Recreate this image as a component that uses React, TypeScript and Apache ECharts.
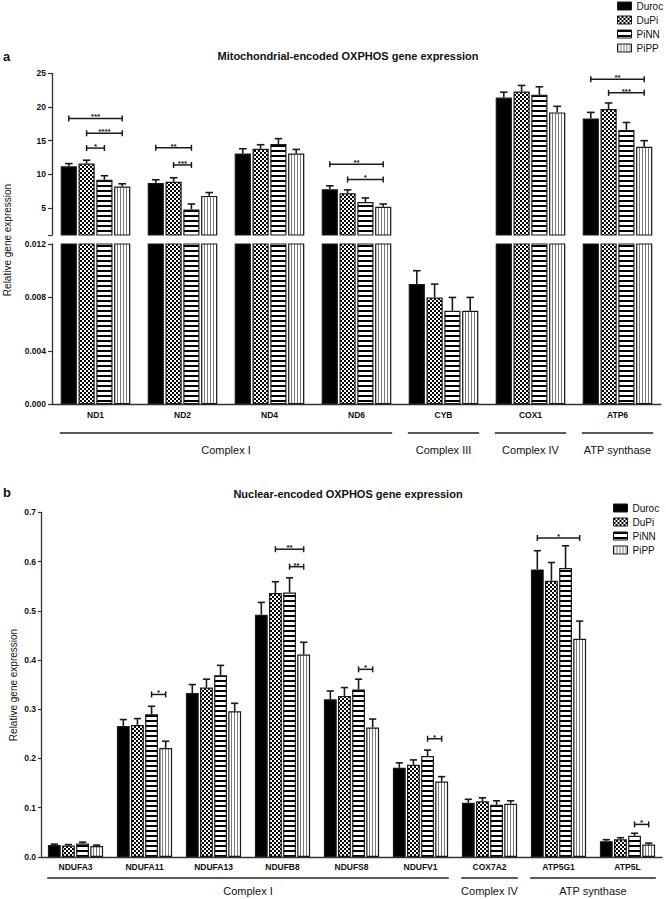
import React, { useEffect, useRef } from "react";
import * as echarts from "echarts";

const FONT = '"Liberation Sans", Arial, Helvetica, sans-serif';

const seriesNames = ["Duroc", "DuPi", "PiNN", "PiPP"];

// Panel a: mitochondrial-encoded genes
const mitoGenes = ["ND1", "ND2", "ND4", "ND6", "CYB", "COX1", "ATP6"];
const mitoDuroc = [11.2, 8.7, 13.1, 7.8, 0.009, 21.4, 18.3];
const mitoDuPi = [11.6, 8.9, 13.8, 7.2, 0.008, 22.3, 19.7];
const mitoPiNN = [9.2, 4.8, 14.5, 5.9, 0.007, 21.8, 16.6];
const mitoPiPP = [8.2, 6.8, 13.1, 5.2, 0.007, 19.2, 14.1];
const mitoErrDuroc = [0.4, 0.5, 0.7, 0.5, 0.001, 0.8, 0.9];
const mitoErrDuPi = [0.5, 0.6, 0.6, 0.5, 0.001, 0.9, 0.9];
const mitoErrPiNN = [0.6, 0.8, 0.8, 0.6, 0.001, 1.2, 1.1];
const mitoErrPiPP = [0.4, 0.5, 0.6, 0.4, 0.001, 0.9, 0.9];
const mitoUpperTickLabels = [5, 10, 15, 20, 25];
const mitoUpperTicks = [1, 5, 10, 15, 20, 25];

const mitoSig = [
  { gene: 0, from: 0, to: 3, y: 18.3, label: "***" },
  { gene: 0, from: 1, to: 3, y: 16.1, label: "****" },
  { gene: 0, from: 1, to: 2, y: 13.9, label: "*" },
  { gene: 1, from: 0, to: 2, y: 13.95, label: "**" },
  { gene: 1, from: 1, to: 2, y: 11.4, label: "***" },
  { gene: 3, from: 0, to: 3, y: 11.5, label: "**" },
  { gene: 3, from: 1, to: 3, y: 9.25, label: "*" },
  { gene: 6, from: 0, to: 3, y: 24.1, label: "**" },
  { gene: 6, from: 1, to: 3, y: 22.1, label: "***" },
];

const mitoGroups = [
  { label: "Complex I", from: 0, to: 3 },
  { label: "Complex III", from: 4, to: 4 },
  { label: "Complex IV", from: 5, to: 5 },
  { label: "ATP synthase", from: 6, to: 6 },
];

// Panel b: nuclear-encoded genes
const nucGenes = ["NDUFA3", "NDUFA11", "NDUFA13", "NDUFB8", "NDUFS8", "NDUFV1", "COX7A2", "ATP5G1", "ATP5L"];
const nucDuroc = [0.024, 0.266, 0.333, 0.492, 0.32, 0.181, 0.11, 0.584, 0.032];
const nucDuPi = [0.023, 0.268, 0.344, 0.536, 0.327, 0.187, 0.113, 0.561, 0.036];
const nucPiNN = [0.027, 0.29, 0.369, 0.537, 0.34, 0.205, 0.106, 0.587, 0.043];
const nucPiPP = [0.022, 0.221, 0.296, 0.411, 0.263, 0.153, 0.108, 0.443, 0.025];
const nucErrDuroc = [0.002, 0.013, 0.017, 0.025, 0.017, 0.01, 0.007, 0.038, 0.003];
const nucErrDuPi = [0.002, 0.013, 0.017, 0.023, 0.017, 0.01, 0.007, 0.037, 0.003];
const nucErrPiNN = [0.003, 0.016, 0.02, 0.03, 0.021, 0.012, 0.008, 0.045, 0.005];
const nucErrPiPP = [0.002, 0.014, 0.016, 0.025, 0.017, 0.01, 0.006, 0.036, 0.003];

const nucSig = [
  { gene: 1, from: 2, to: 3, y: 0.33, label: "*" },
  { gene: 3, from: 1, to: 3, y: 0.625, label: "**" },
  { gene: 3, from: 2, to: 3, y: 0.5895, label: "**" },
  { gene: 4, from: 2, to: 3, y: 0.381, label: "*" },
  { gene: 5, from: 2, to: 3, y: 0.24, label: "*" },
  { gene: 7, from: 0, to: 3, y: 0.648, label: "*" },
  { gene: 8, from: 2, to: 3, y: 0.066, label: "*" },
];

const nucGroups = [
  { label: "Complex I", from: 0, to: 5 },
  { label: "Complex IV", from: 6, to: 6 },
  { label: "ATP synthase", from: 7, to: 8 },
];

const mitoValues = [mitoDuroc, mitoDuPi, mitoPiNN, mitoPiPP];
const mitoErrors = [mitoErrDuroc, mitoErrDuPi, mitoErrPiNN, mitoErrPiPP];
const nucValues = [nucDuroc, nucDuPi, nucPiNN, nucPiPP];
const nucErrors = [nucErrDuroc, nucErrDuPi, nucErrPiNN, nucErrPiPP];

// layout
const GA1 = { left: 52, top: 73.3, width: 609, height: 161.7 };
const GA2 = { left: 52, top: 244, width: 609, height: 160.3 };
const GB = { left: 41, top: 512.3, width: 621, height: 344.6 };

function makePattern(kind: string): any {
  const c = document.createElement("canvas");
  let w = 4;
  let h = 4;
  if (kind === "h") { w = 4; h = 5; }
  if (kind === "v") { w = 3; h = 4; }
  c.width = w;
  c.height = h;
  const ctx = c.getContext("2d")!;
  ctx.fillStyle = "#fff";
  ctx.fillRect(0, 0, w, h);
  ctx.fillStyle = "#000";
  if (kind === "c") {
    ctx.fillRect(0, 0, 2, 2);
    ctx.fillRect(2, 2, 2, 2);
  } else if (kind === "h") {
    ctx.fillRect(0, 0, w, 2);
  } else {
    ctx.fillStyle = "#7a7a7a";
    ctx.fillRect(0, 0, 1, h);
  }
  return { image: c, repeat: "repeat", imageWidth: w, imageHeight: h };
}

function barWidthOf(api: any) {
  const band = api.size([1, 0])[0];
  return (band * 0.8) / 4.3;
}

function buildOption() {
  const pats = ["#000", makePattern("c"), makePattern("h"), makePattern("v")];

  const bars = (values: number[][], gi: number) =>
    seriesNames.map((n, si) => ({
      type: "bar",
      name: n,
      xAxisIndex: gi,
      yAxisIndex: gi,
      data: values[si],
      barGap: "10%",
      barCategoryGap: "20%",
      clip: true,
      silent: true,
      itemStyle: { color: pats[si], borderColor: "#1a1a1a", borderWidth: 1.2 },
      z: 2,
    }));

  const errs = (values: number[][], errors: number[][], gi: number, lo: number, hi: number) =>
    seriesNames.map((_n, si) => ({
      type: "custom",
      xAxisIndex: gi,
      yAxisIndex: gi,
      silent: true,
      z: 3,
      data: values[si].map((v, i) => [i, v, errors[si][i]]),
      encode: { x: 0, y: 1 },
      renderItem: (_p: any, api: any) => {
        const ci = api.value(0);
        const v = api.value(1);
        const e = api.value(2);
        if (v < lo || v + e > hi) return null;
        const bw = barWidthOf(api);
        const p0 = api.coord([ci, v]);
        const p1 = api.coord([ci, v + e]);
        const cx = p0[0] + (si - 1.5) * 1.1 * bw;
        const half = Math.min(3.8, bw * 0.28);
        return {
          type: "group",
          children: [
            { type: "line", shape: { x1: cx, y1: p0[1], x2: cx, y2: p1[1] }, style: { stroke: "#1a1a1a", lineWidth: 1.6 } },
            { type: "line", shape: { x1: cx - half, y1: p1[1], x2: cx + half, y2: p1[1] }, style: { stroke: "#1a1a1a", lineWidth: 1.6 } },
          ],
        };
      },
    }));

  const brackets = (sig: any[], gi: number) => ({
    type: "custom",
    xAxisIndex: gi,
    yAxisIndex: gi,
    silent: true,
    z: 4,
    data: sig.map((s) => [s.gene, s.from, s.to, s.y]),
    encode: { x: 0, y: 3 },
    renderItem: (params: any, api: any) => {
      const ci = api.value(0);
      const a = api.value(1);
      const b = api.value(2);
      const yv = api.value(3);
      const bw = barWidthOf(api);
      const base = api.coord([ci, yv]);
      const x1 = base[0] + (a - 1.5) * 1.1 * bw;
      const x2 = base[0] + (b - 1.5) * 1.1 * bw;
      const y = base[1];
      const st = { stroke: "#1a1a1a", lineWidth: 1.5 };
      return {
        type: "group",
        children: [
          { type: "line", shape: { x1, y1: y, x2, y2: y }, style: st },
          { type: "line", shape: { x1, y1: y - 3, x2: x1, y2: y + 3 }, style: st },
          { type: "line", shape: { x1: x2, y1: y - 3, x2, y2: y + 3 }, style: st },
          {
            type: "text",
            x: (x1 + x2) / 2,
            y: y + 2.5,
            style: {
              text: sig[params.dataIndex].label,
              fill: "#111",
              fontSize: 8,
              fontWeight: "bold",
              fontFamily: FONT,
              align: "center",
              verticalAlign: "bottom",
            },
          },
        ],
      };
    },
  });

  const catAxisCommon = {
    type: "category",
    axisLine: { lineStyle: { color: "#333", width: 1.3 } },
    axisTick: { alignWithLabel: true, length: 4, lineStyle: { color: "#333", width: 1.2 } },
    axisLabel: { fontSize: 8.5, fontWeight: "bold", color: "#111", margin: 6, fontFamily: FONT, interval: 0 },
  };
  const valAxisCommon = {
    type: "value",
    axisLine: { show: true, lineStyle: { color: "#333", width: 1.3 } },
    axisTick: { show: true, length: 4, lineStyle: { color: "#333", width: 1.2 } },
    splitLine: { show: false },
  };

  const groupGraphics = (grid: any, n: number, groups: any[], lineY: number, labelY: number) => {
    const cw = grid.width / n;
    const out: any[] = [];
    groups.forEach((g) => {
      const x1 = grid.left + cw * g.from + cw * 0.09;
      const x2 = grid.left + cw * (g.to + 1) - cw * 0.09;
      out.push({ type: "line", shape: { x1, y1: lineY, x2, y2: lineY }, style: { stroke: "#222", lineWidth: 1.5 } });
      out.push({
        type: "text",
        x: (x1 + x2) / 2,
        y: labelY,
        style: { text: g.label, fill: "#111", fontSize: 11, fontFamily: FONT, align: "center", verticalAlign: "middle" },
      });
    });
    return out;
  };

  const legendCommon = {
    data: seriesNames,
    orient: "vertical",
    icon: "rect",
    itemWidth: 14,
    itemHeight: 8,
    itemGap: 2,
    padding: 0,
    selectedMode: false,
    textStyle: { fontSize: 10, color: "#111", fontFamily: FONT, lineHeight: 12 },
    itemStyle: { borderColor: "#1a1a1a", borderWidth: 1 },
  };

  return {
    animation: false,
    backgroundColor: "#fff",
    textStyle: { fontFamily: FONT },
    legend: [
      { ...legendCommon, left: 617, top: 0 },
      { ...legendCommon, left: 613, top: 502 },
    ],
    grid: [
      { ...GA1, containLabel: false, outerBoundsMode: "none" },
      { ...GA2, containLabel: false, outerBoundsMode: "none" },
      { ...GB, containLabel: false, outerBoundsMode: "none" },
    ],
    xAxis: [
      { type: "category", gridIndex: 0, data: mitoGenes, show: false },
      { ...catAxisCommon, gridIndex: 1, data: mitoGenes },
      { ...catAxisCommon, gridIndex: 2, data: nucGenes },
    ],
    yAxis: [
      {
        ...valAxisCommon,
        gridIndex: 0,
        min: 1,
        max: 25,
        axisTick: { ...valAxisCommon.axisTick, customValues: mitoUpperTicks },
        axisLabel: { customValues: mitoUpperTickLabels, fontSize: 8.5, fontWeight: "bold", color: "#111", margin: 6, fontFamily: FONT },
      },
      {
        ...valAxisCommon,
        gridIndex: 1,
        min: 0,
        max: 0.012,
        interval: 0.004,
        axisLabel: { formatter: (v: number) => v.toFixed(3), fontSize: 8.5, fontWeight: "bold", color: "#111", margin: 6, fontFamily: FONT },
      },
      {
        ...valAxisCommon,
        gridIndex: 2,
        min: 0,
        max: 0.7,
        interval: 0.1,
        axisTick: { ...valAxisCommon.axisTick, length: 3 },
        axisLabel: { formatter: (v: number) => v.toFixed(1), fontSize: 8.5, fontWeight: "bold", color: "#111", margin: 5, fontFamily: FONT },
      },
    ],
    series: [
      ...bars(mitoValues, 0),
      ...bars(mitoValues, 1),
      ...bars(nucValues, 2),
      ...errs(mitoValues, mitoErrors, 0, 1, 25),
      ...errs(mitoValues, mitoErrors, 1, 0, 0.012),
      ...errs(nucValues, nucErrors, 2, 0, 0.7),
      brackets(mitoSig, 0),
      brackets(nucSig, 2),
    ],
    graphic: [
      { type: "text", x: 3, y: 56, style: { text: "a", fontSize: 13, fontWeight: "bold", fill: "#111", fontFamily: FONT, verticalAlign: "middle" } },
      { type: "text", x: 3, y: 492, style: { text: "b", fontSize: 13, fontWeight: "bold", fill: "#111", fontFamily: FONT, verticalAlign: "middle" } },
      {
        type: "text", x: 348, y: 56,
        style: { text: "Mitochondrial-encoded OXPHOS gene expression", fontSize: 11, fontWeight: "bold", fill: "#111", fontFamily: FONT, align: "center", verticalAlign: "middle" },
      },
      {
        type: "text", x: 348, y: 494,
        style: { text: "Nuclear-encoded OXPHOS gene expression", fontSize: 11, fontWeight: "bold", fill: "#111", fontFamily: FONT, align: "center", verticalAlign: "middle" },
      },
      {
        type: "text", x: 7, y: 240, rotation: Math.PI / 2,
        style: { text: "Relative gene expression", fontSize: 10, fill: "#111", fontFamily: FONT, align: "center", verticalAlign: "middle" },
      },
      {
        type: "text", x: 13, y: 685, rotation: Math.PI / 2,
        style: { text: "Relative gene expression", fontSize: 10, fill: "#111", fontFamily: FONT, align: "center", verticalAlign: "middle" },
      },
      ...groupGraphics(GA2, mitoGenes.length, mitoGroups, 433, 450),
      ...groupGraphics(GB, nucGenes.length, nucGroups, 878, 891),
    ],
  };
}

export default function App() {
  const ref = useRef<HTMLDivElement>(null);
  useEffect(() => {
    if (!ref.current) return;
    const chart = echarts.init(ref.current, null, { renderer: "svg" });
    chart.setOption(buildOption() as any);
    return () => chart.dispose();
  }, []);
  return <div ref={ref} style={{ position: "absolute", left: 0, top: 0, width: 666, height: 899 }} />;
}
